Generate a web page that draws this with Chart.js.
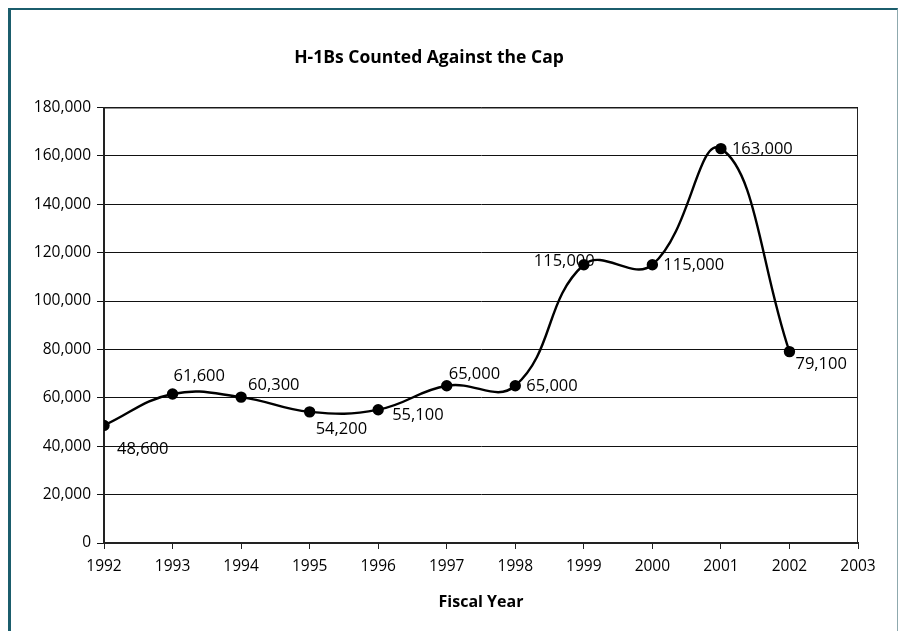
<!DOCTYPE html>
<html>
<head>
<meta charset="utf-8">
<script src="https://cdn.jsdelivr.net/npm/chart.js@4/dist/chart.umd.min.js"></script>
<style>
  html, body { margin: 0; padding: 0; background: #fff; }
  #frame {
    position: absolute; left: 8px; top: 8px; width: 886px; height: 640px;
    border-left: 3px solid #1b5d6c; border-top: 2px solid #1b5d6c;
    border-right: 1px solid #8fa9ae;
  }
  canvas { position: absolute; left: 0; top: 0; }
</style>
</head>
<body>
<div id="frame"></div>
<canvas id="chart" width="902" height="631"></canvas>
<script>
const years = [1992, 1993, 1994, 1995, 1996, 1997, 1998, 1999, 2000, 2001, 2002];
const counts = [48600, 61600, 60300, 54200, 55100, 65000, 65000, 115000, 115000, 163000, 79100];
const labelText = ["48,600", "61,600", "60,300", "54,200", "55,100", "65,000", "65,000", "115,000", "115,000", "163,000", "79,100"];

// where each value label sits relative to its point (left edge, vertical centre)
const labelOffsets = [
  [13, 24], [1, -18], [7, -12], [6, 17], [14, 6], [2, -11],
  [11, 1], [-50, -3], [11, 1], [11, 1], [6, 13],
];

const FONT = "'Open Sans', 'DejaVu Sans', sans-serif";

const pointLabels = {
  id: "pointLabels",
  afterDatasetsDraw(chart) {
    const ctx = chart.ctx;
    const meta = chart.getDatasetMeta(0);
    ctx.save();
    ctx.font = "16.5px " + FONT;
    ctx.fillStyle = "#000";
    ctx.textAlign = "left";
    ctx.textBaseline = "middle";
    meta.data.forEach((pt, i) => {
      ctx.fillText(labelText[i], pt.x + labelOffsets[i][0], pt.y + labelOffsets[i][1]);
    });
    ctx.restore();
  },
};

const plotBorder = {
  id: "plotBorder",
  beforeDatasetsDraw(chart) {
    const { ctx, chartArea: a } = chart;
    ctx.save();
    ctx.strokeStyle = "#222";
    ctx.lineWidth = 1;
    ctx.beginPath();
    ctx.moveTo(a.left, a.top + 0.5);
    ctx.lineTo(a.right - 0.5, a.top + 0.5);
    ctx.lineTo(a.right - 0.5, a.bottom);
    ctx.stroke();
    ctx.restore();
  },
};

new Chart(document.getElementById("chart"), {
  type: "line",
  data: {
    datasets: [{
      data: years.map((y, i) => ({ x: y, y: counts[i] })),
      borderColor: "#000",
      backgroundColor: "#000",
      borderWidth: 2.4,
      pointRadius: 4.5,
      pointBackgroundColor: "#000",
      tension: 0.42,
    }],
  },
  options: {
    responsive: false,
    animation: false,
    layout: { padding: { left: 0, right: 44, top: 0, bottom: 0 } },
    plugins: {
      legend: { display: false },
      tooltip: { enabled: false },
      title: {
        display: true,
        text: "H-1Bs Counted Against the Cap",
        color: "#000",
        font: { family: FONT, size: 17.5, weight: "bold" },
        padding: { top: 48, bottom: 38.5 },
      },
    },
    scales: {
      x: {
        type: "linear",
        min: 1992,
        max: 2003,
        afterFit(s) { s.height = 88; },
        ticks: {
          stepSize: 1,
          color: "#000",
          font: { family: FONT, size: 15.5 },
          padding: 8,
          callback: (v) => String(v),
          maxRotation: 0,
        },
        grid: {
          drawOnChartArea: false,
          drawTicks: true,
          tickLength: 6,
          color: "#222",
        },
        border: { color: "#222", width: 2 },
        title: {
          display: true,
          text: "Fiscal Year",
          color: "#000",
          font: { family: FONT, size: 16, weight: "bold" },
          padding: { top: 4, bottom: 19 },
        },
      },
      y: {
        min: 0,
        max: 180000,
        afterFit(s) { s.width = 104; },
        ticks: {
          stepSize: 20000,
          color: "#000",
          font: { family: FONT, size: 15.5 },
          padding: 6,
          callback: (v) => v.toLocaleString("en-US"),
        },
        grid: {
          color: "#111",
          lineWidth: 1,
          tickLength: 7,
        },
        border: { color: "#222", width: 2 },
      },
    },
  },
  plugins: [plotBorder, pointLabels],
});
</script>
</body>
</html>
